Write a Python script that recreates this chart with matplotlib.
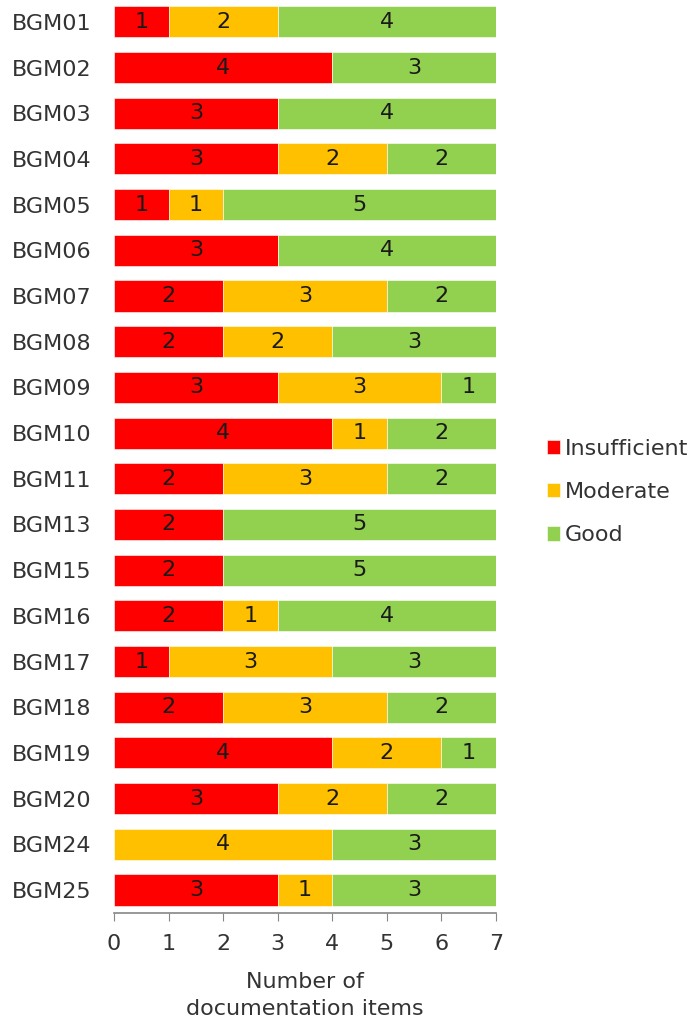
import numpy as np
import matplotlib.pyplot as plt

models = ["BGM01", "BGM02", "BGM03", "BGM04", "BGM05", "BGM06", "BGM07",
          "BGM08", "BGM09", "BGM10", "BGM11", "BGM13", "BGM15", "BGM16",
          "BGM17", "BGM18", "BGM19", "BGM20", "BGM24", "BGM25"]
insufficient = [1, 4, 3, 3, 1, 3, 2, 2, 3, 4, 2, 2, 2, 2, 1, 2, 4, 3, 0, 3]
moderate = [2, 0, 0, 2, 1, 0, 3, 2, 3, 1, 3, 0, 0, 1, 3, 3, 2, 2, 4, 1]
good = [4, 3, 4, 2, 5, 4, 2, 3, 1, 2, 2, 5, 5, 4, 3, 2, 1, 2, 3, 3]

series = [("Insufficient", insufficient, "#FF0000"),
          ("Moderate", moderate, "#FFC000"),
          ("Good", good, "#92D050")]

fs = 16
fig = plt.figure(figsize=(6.95, 10.28), dpi=100)
ax = fig.add_axes([0.164, 0.112, 0.5497, 0.889])

y = np.arange(len(models))
left = np.zeros(len(models))
for name, vals, col in series:
    vals = np.array(vals)
    bars = ax.barh(y, vals, left=left, height=0.68, color=col, label=name,
                   edgecolor="white", linewidth=0.4)
    for b, v in zip(bars, vals):
        if v > 0:
            ax.text(b.get_x() + b.get_width() / 2, b.get_y() + b.get_height() / 2,
                    str(v), ha="center", va="center", fontsize=fs, color="#1a1a1a")
    left += vals

ax.set_xlim(0, 7)
ax.set_ylim(len(models) - 0.5, -0.5)
ax.set_yticks(y)
ax.set_yticklabels(models, fontsize=fs, color="#333333")
ax.set_xticks(range(8))
ax.tick_params(axis="y", length=0, pad=16)
ax.tick_params(axis="x", length=6, color="#868686", labelsize=fs,
               labelcolor="#333333", pad=9)
for s in ["top", "right", "left"]:
    ax.spines[s].set_visible(False)
ax.spines["bottom"].set_color("#868686")
ax.spines["bottom"].set_linewidth(1.2)

ax.set_xlabel("Number of\ndocumentation items", fontsize=fs, color="#333333",
              labelpad=13, linespacing=1.45)

fig.legend(loc="center left", bbox_to_anchor=(0.758, 0.5214), frameon=False,
           fontsize=fs, handlelength=0.6, handleheight=0.6, handletextpad=0.2,
           labelspacing=1.05, labelcolor="#333333")

fig.savefig("out.png", dpi=100)
